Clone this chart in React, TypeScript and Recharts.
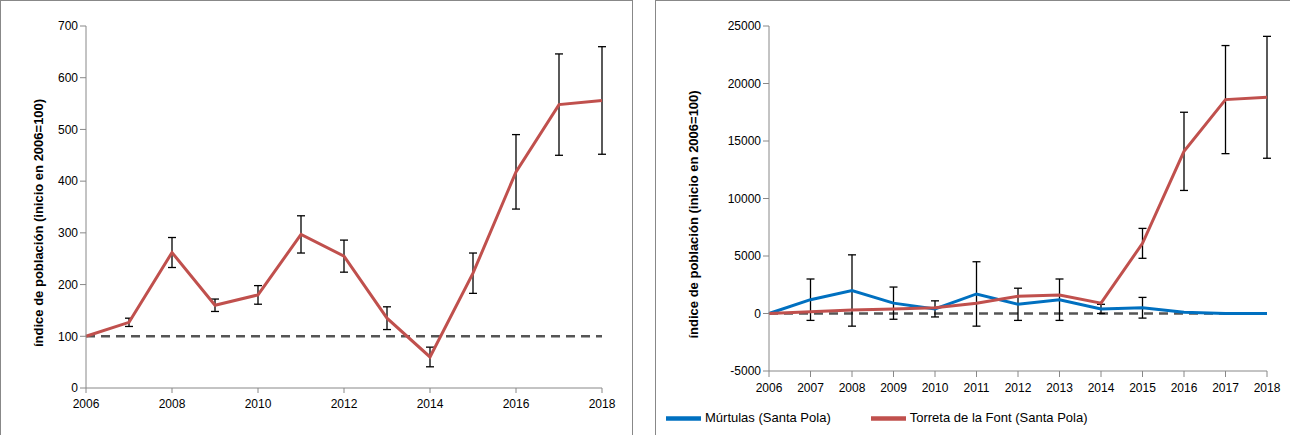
import React from 'react';
import { LineChart, Line, XAxis, YAxis, ReferenceLine, ErrorBar, Legend } from 'recharts';

const years = [2006, 2007, 2008, 2009, 2010, 2011, 2012, 2013, 2014, 2015, 2016, 2017, 2018];
const leftValues = [100, 127, 262, 160, 180, 297, 255, 135, 60, 222, 418, 548, 556];
const leftErr = [0, 8, 29, 12, 18, 36, 31, 22, 19, 39, 72, 98, 104];
const murtulas = [0, 1200, 2000, 900, 400, 1700, 800, 1200, 400, 500, 100, 0, 0];
const murtulasErr = [0, 1800, 3100, 1400, 700, 2800, 1400, 1800, 400, 900, 0, 0, 0];
const torreta = [0, 150, 300, 400, 500, 900, 1500, 1600, 900, 6100, 14100, 18600, 18800];
const torretaErr = [0, 0, 0, 0, 0, 0, 0, 0, 0, 1300, 3400, 4700, 5300];

const leftData = years.map((y, i) => ({ year: y, v: leftValues[i], e: leftErr[i] }));
const rightData = years.map((y, i) => ({ year: y, m: murtulas[i], me: murtulasErr[i], t: torreta[i], te: torretaErr[i] }));

const font = 'Liberation Sans, Arial, sans-serif';
const tick = { fontSize: 12, fill: '#000', fontFamily: font };
const ylabel = (
  { value: 'índice de población (inicio en 2006=100)', angle: -90, position: 'insideLeft', dx: 22, dy: 140, style: { fontSize: 13, fontWeight: 'bold', fill: '#000', fontFamily: font } }
);

export default function App() {
  return (
    <div style={{ position: 'fixed', left: 0, top: 0, width: 1290, height: 435, background: '#fff', overflow: 'hidden' }}>
      <div style={{ position: 'absolute', left: 0, top: 0, width: 633, height: 445, border: '1px solid #888', boxSizing: 'border-box' }}>
        <LineChart width={631} height={432} data={leftData} margin={{ top: 25, right: 30, left: 10, bottom: 15 }}>
          <XAxis dataKey="year" type="number" domain={[2006, 2018]} ticks={[2006, 2008, 2010, 2012, 2014, 2016, 2018]} tick={tick} stroke="#888" tickSize={5} tickMargin={6} />
          <YAxis domain={[0, 700]} ticks={[0, 100, 200, 300, 400, 500, 600, 700]} tick={tick} stroke="#888" width={75} label={ylabel} />
          <ReferenceLine y={100} stroke="#555" strokeWidth={2.5} strokeDasharray="9 6" />
          <Line dataKey="v" stroke="#c0504d" strokeWidth={3} dot={false} isAnimationActive={false}>
            <ErrorBar dataKey="e" stroke="#000" strokeWidth={1.3} width={4} />
          </Line>
        </LineChart>
      </div>
      <div style={{ position: 'absolute', left: 655, top: 0, width: 640, height: 445, border: '1px solid #888', boxSizing: 'border-box' }}>
        <LineChart width={633} height={441} data={rightData} margin={{ top: 25, right: 22, left: 10, bottom: 6 }}>
          <XAxis dataKey="year" type="number" domain={[2006, 2018]} ticks={years} tick={tick} stroke="#888" tickMargin={6} />
          <YAxis domain={[-5000, 25000]} ticks={[-5000, 0, 5000, 10000, 15000, 20000, 25000]} tick={tick} stroke="#888" width={103} label={ylabel} />
          <ReferenceLine y={0} stroke="#555" strokeWidth={2.5} strokeDasharray="9 6" />
          <Line dataKey="m" name="Múrtulas (Santa Pola)" stroke="#0070c0" strokeWidth={3} dot={false} isAnimationActive={false}>
            <ErrorBar dataKey="me" stroke="#000" strokeWidth={1.3} width={4} />
          </Line>
          <Line dataKey="t" name="Torreta de la Font (Santa Pola)" stroke="#c0504d" strokeWidth={3} dot={false} isAnimationActive={false}>
            <ErrorBar dataKey="te" stroke="#000" strokeWidth={1.3} width={4} />
          </Line>
          <Legend verticalAlign="bottom" align="left" iconType="plainline" iconSize={35} wrapperStyle={{ fontSize: 13, fontFamily: font, color: '#000', left: 10 }}
            formatter={(v) => <span style={{ color: '#000', marginRight: 30 }}>{v}</span>} />
        </LineChart>
      </div>
    </div>
  );
}
